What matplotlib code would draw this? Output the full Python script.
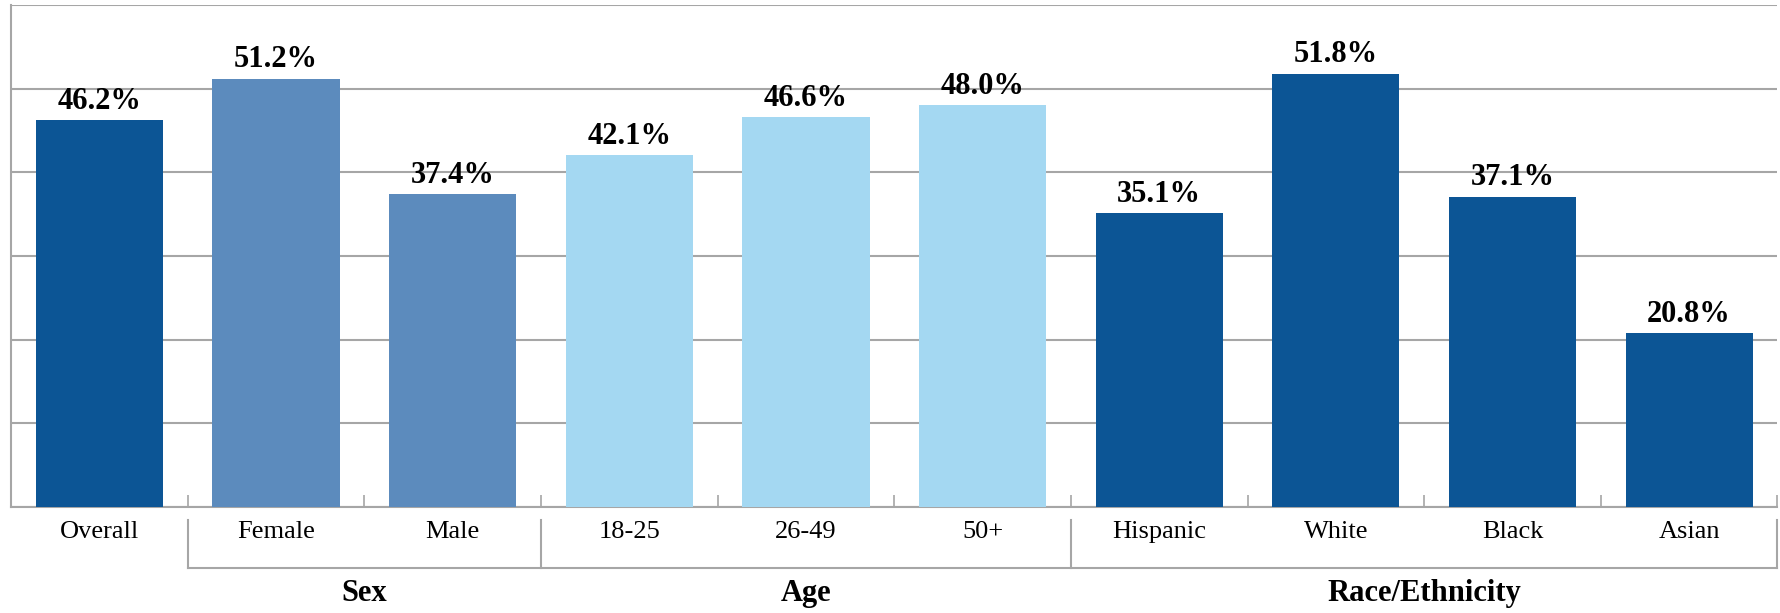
#!/usr/bin/env python3

import matplotlib
matplotlib.use('Agg')
import matplotlib.pyplot as plt
import matplotlib.transforms as mtransforms

categories = ['Overall', 'Female', 'Male', '18-25', '26-49', '50+',
              'Hispanic', 'White', 'Black', 'Asian']
values = [46.2, 51.2, 37.4, 42.1, 46.6, 48.0, 35.1, 51.8, 37.1, 20.8]
bar_groups = ['all', 'sex', 'sex', 'age', 'age', 'age',
              'race', 'race', 'race', 'race']

group_names = ['Sex', 'Age', 'Race/Ethnicity']
group_spans = [(1, 3), (3, 6), (6, 10)]

colours = {'all': '#0c5595', 'sex': '#5c8bbd', 'age': '#a4d8f2', 'race': '#0c5595'}
GRID = '#a6a6a6'

plt.rcParams['font.family'] = ['Liberation Serif', 'DejaVu Serif']

fig = plt.figure(figsize=(17.81, 6.13), dpi=100)
ax = fig.add_axes([0.0062, 0.173, 0.9918, 0.819])

x = list(range(len(categories)))
bars = ax.bar(x, values, width=0.72,
              color=[colours[g] for g in bar_groups], zorder=3)

for rect, v in zip(bars, values):
    ax.annotate(f'{v:.1f}%', (rect.get_x() + rect.get_width() / 2, v),
                xytext=(0, 3), textcoords='offset points',
                ha='center', va='bottom', fontsize=22, fontweight='bold')

ax.set_xlim(-0.5, len(categories) - 0.5)
ax.set_ylim(0, 60)
ax.set_yticks(range(0, 61, 10))
ax.yaxis.grid(True, color=GRID, linewidth=1.5, zorder=0)
ax.tick_params(axis='y', left=False, labelleft=False)

for side in ['top', 'right']:
    ax.spines[side].set_visible(False)
for side in ['left', 'bottom']:
    ax.spines[side].set_color(GRID)
    ax.spines[side].set_linewidth(1.5)

# boundary ticks pointing up into the plot, labels on the bar centres
ax.set_xticks([i + 0.5 for i in range(len(categories))])
ax.set_xticklabels([])
ax.tick_params(axis='x', which='major', direction='in', length=9,
               width=1.2, color=GRID)
ax.set_xticks(x, minor=True)
ax.set_xticklabels(categories, minor=True, fontsize=19)
ax.tick_params(axis='x', which='minor', length=0, pad=10)

# group brackets under the category labels
trans = mtransforms.blended_transform_factory(ax.transData, ax.transAxes)
y_top, y_bot = -0.026, -0.122
edges = sorted({s - 0.5 for s, _ in group_spans} | {e - 0.5 for _, e in group_spans})
for xe in edges:
    ax.plot([xe, xe], [y_top, y_bot], color=GRID, lw=1.5,
            transform=trans, clip_on=False)
ax.plot([edges[0], edges[-1]], [y_bot, y_bot], color=GRID, lw=1.5,
        transform=trans, clip_on=False)
for name, (s, e) in zip(group_names, group_spans):
    ax.text((s + e - 1) / 2, -0.173, name, transform=trans,
            ha='center', va='center', fontsize=22, fontweight='bold')

fig.savefig('out.png', dpi=100)
